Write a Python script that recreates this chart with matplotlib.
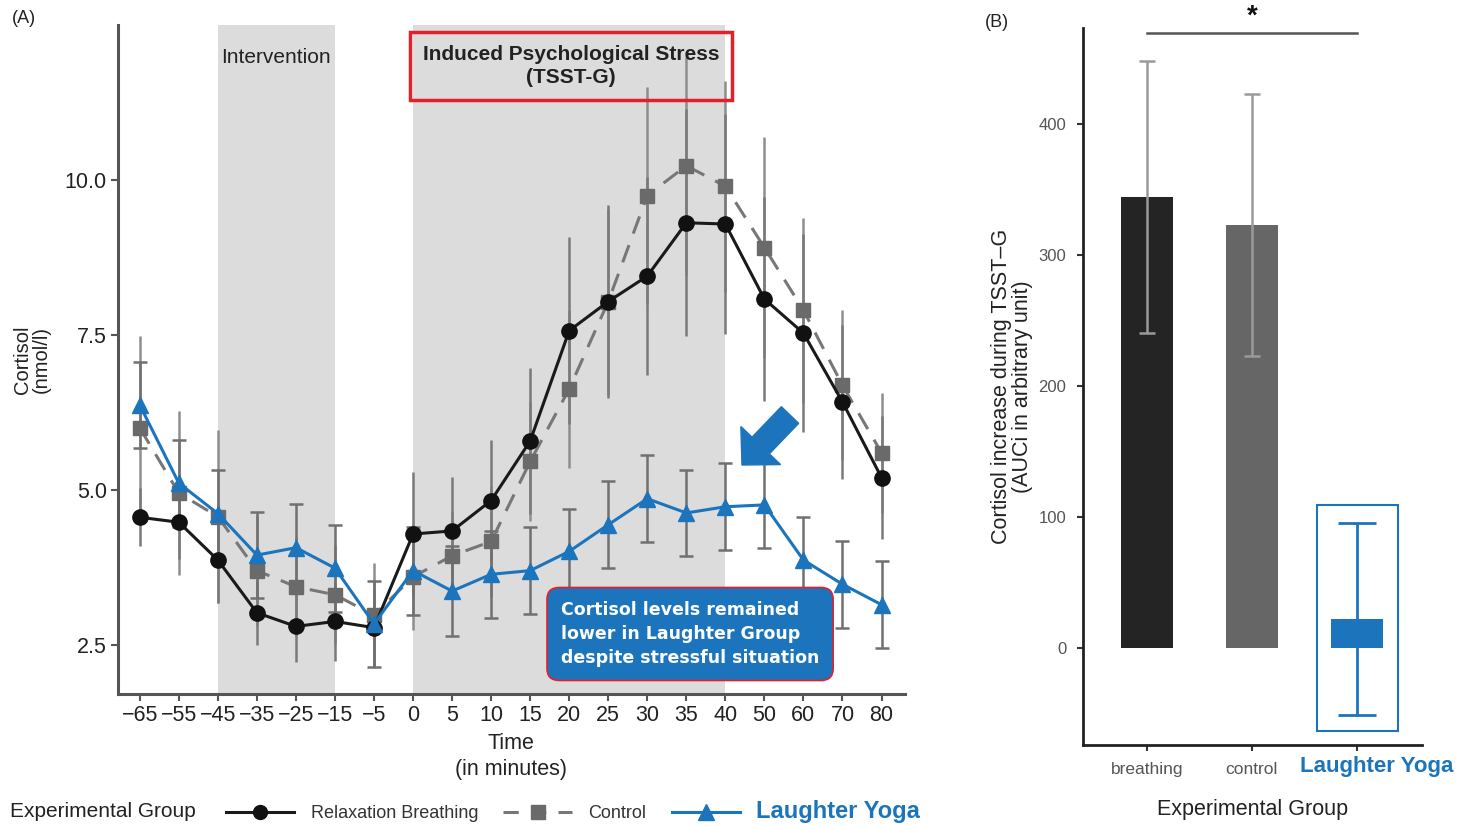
import matplotlib
matplotlib.use("Agg")
import matplotlib.pyplot as plt
import numpy as np
from matplotlib.patches import FancyArrow, Rectangle
from matplotlib.lines import Line2D

plt.rcParams['font.family'] = ['Liberation Sans', 'DejaVu Sans']

# Panel A data (cortisol, nmol/l)
times = [-65, -55, -45, -35, -25, -15, -5, 0, 5, 10, 15, 20, 25, 30, 35, 40, 50, 60, 70, 80]
breathing = [4.56, 4.48, 3.87, 3.02, 2.80, 2.88, 2.78, 4.29, 4.34, 4.83, 5.79, 7.57, 8.04, 8.45,
             9.31, 9.29, 8.08, 7.53, 6.42, 5.20]
breathing_se = [0.47, 0.60, 0.70, 0.52, 0.58, 0.63, 0.62, 1.00, 0.87, 0.98, 1.18, 1.51, 1.55, 1.60,
                1.83, 1.78, 1.65, 1.60, 1.24, 0.99]
control = [6.00, 4.95, 4.57, 3.70, 3.44, 3.31, 2.98, 3.60, 3.94, 4.17, 5.46, 6.63, 8.04, 9.75,
           10.23, 9.90, 8.91, 7.90, 6.69, 5.60]
control_se = [1.48, 1.32, 1.40, 0.90, 0.80, 0.80, 0.85, 0.85, 0.70, 0.90, 0.96, 1.28, 1.50, 1.75,
              1.76, 1.70, 1.78, 1.49, 1.21, 0.97]
yoga = [6.37, 5.11, 4.62, 3.95, 4.07, 3.74, 2.84, 3.70, 3.37, 3.64, 3.70, 4.01, 4.44, 4.86,
        4.63, 4.73, 4.76, 3.87, 3.48, 3.15]
yoga_se = [0.69, 0.70, 0.70, 0.69, 0.70, 0.70, 0.69, 0.71, 0.73, 0.70, 0.70, 0.69, 0.70, 0.70,
           0.70, 0.70, 0.70, 0.70, 0.70, 0.70]

# Panel B data (AUCi)
groups = ['breathing', 'control', 'Laughter Yoga']
auc = [344, 323, 22]
auc_err = [104, 100, 73]

blue = '#1c75bc'
fig = plt.figure(figsize=(14.65, 8.25), dpi=100)

# ---------------- panel A ----------------
ax = fig.add_axes([0.0805, 0.1588, 0.5372, 0.8109])
x = np.arange(len(times))

ax.axvspan(times.index(-45), times.index(-15), color='#dcdcdc', lw=0, zorder=0)
ax.axvspan(times.index(0), times.index(40), color='#dcdcdc', lw=0, zorder=0)

ax.errorbar(x, control, yerr=control_se, fmt='none', ecolor='#8e8e8e', elinewidth=1.8, capsize=0, zorder=2)
ax.errorbar(x, breathing, yerr=breathing_se, fmt='none', ecolor='#7a7a7a', elinewidth=1.8, capsize=0, zorder=2)
ax.errorbar(x, yoga, yerr=yoga_se, fmt='none', ecolor='#707070', elinewidth=1.8, capsize=5, capthick=1.8, zorder=2)

ax.plot(x, control, color='#777777', lw=2.2, dashes=(6, 4), marker='s', ms=10, mfc='#6a6a6a', mec='#6a6a6a', zorder=3)
ax.plot(x, breathing, color='#1a1a1a', lw=2.2, marker='o', ms=11, mfc='#111111', mec='#111111', zorder=4)
ax.plot(x, yoga, color=blue, lw=2.2, marker='^', ms=12, mfc=blue, mec=blue, zorder=5)

ax.set_xlim(-0.56, len(times) - 1 + 0.6)
ax.set_ylim(1.71, 12.5)
ax.set_yticks([2.5, 5.0, 7.5, 10.0])
ax.set_yticklabels(['2.5', '5.0', '7.5', '10.0'], fontsize=15.5, color='#222222')
ax.set_xticks(x)
ax.set_xticklabels([str(t).replace('-', '\u2212') for t in times], fontsize=15.5, color='#222222')
ax.tick_params(length=5, width=1.5, color='#555555', pad=3)
for s in ['top', 'right']:
    ax.spines[s].set_visible(False)
for s in ['left', 'bottom']:
    ax.spines[s].set_linewidth(2.2)
    ax.spines[s].set_color('#555555')
ax.set_xlabel('Time\n(in minutes)', fontsize=15.5, color='#222222', labelpad=5, linespacing=1.3)
ax.set_ylabel('Cortisol\n(nmol/l)', fontsize=14.5, color='#222222', labelpad=10, linespacing=1.0)

ax.text(3.5, 0.952, 'Intervention', transform=ax.get_xaxis_transform(), ha='center', va='center',
        fontsize=15, color='#222222')
ax.text(11.04, 0.939, 'Induced Psychological Stress\n(TSST-G)', transform=ax.get_xaxis_transform(),
        ha='center', va='center', fontsize=15, fontweight='bold', color='#222222', linespacing=1.3,
        bbox=dict(boxstyle='square,pad=0.6', fc='none', ec='#e3202a', lw=2.5))
ax.text(0.727, 0.0897, 'Cortisol levels remained\nlower in Laughter Group\ndespite stressful situation',
        transform=ax.transAxes, ha='center', va='center', multialignment='left', fontsize=12.5,
        fontweight='bold', color='white', family=['DejaVu Sans'], linespacing=1.4,
        bbox=dict(boxstyle='round,pad=0.8,rounding_size=0.7', fc=blue, ec='#e3202a', lw=1.2), zorder=6)

arrow = FancyArrow(7.90, 4.10, -0.48, -0.50, width=0.24, head_width=0.55, head_length=0.27,
                   length_includes_head=True, color=blue, transform=fig.dpi_scale_trans, zorder=7)
fig.patches.append(arrow)

fig.text(0.008, 0.978, '(A)', fontsize=13, color='#222222', va='center')

# legend row
fig.text(0.007, 0.016, 'Experimental Group', fontsize=15, color='#222222', va='center')
handles = [Line2D([], [], color='#1a1a1a', lw=2.2, marker='o', ms=10, mfc='#111111', mec='#111111'),
           Line2D([], [], color='#777777', lw=2.2, dashes=(5, 4), marker='s', ms=10, mfc='#6a6a6a', mec='#6a6a6a'),
           Line2D([], [], color=blue, lw=2.2, marker='^', ms=12, mfc=blue, mec=blue)]
leg = fig.legend(handles, ['Relaxation Breathing', 'Control', 'Laughter Yoga'], loc='center left',
                 bbox_to_anchor=(0.143, 0.016), ncol=3, frameon=False, handlelength=3.8,
                 columnspacing=1.4, handletextpad=0.9, fontsize=13)
for t, c in zip(leg.get_texts(), ['#333333', '#333333', blue]):
    t.set_color(c)
leg.get_texts()[2].set_fontweight('bold')
leg.get_texts()[2].set_fontsize(17)

# ---------------- panel B ----------------
bx = fig.add_axes([0.7392, 0.097, 0.2314, 0.869])
xb = np.arange(len(groups))
bx.bar(xb, auc, width=0.5, color=['#242424', '#666666', blue], zorder=2)
bx.errorbar(xb[:2], auc[:2], yerr=auc_err[:2], fmt='none', ecolor='#9a9a9a', elinewidth=1.8,
            capsize=6, capthick=1.8, zorder=3)
bx.errorbar(xb[2:], auc[2:], yerr=auc_err[2:], fmt='none', ecolor=blue, elinewidth=2,
            capsize=14, capthick=2, zorder=3)
bx.add_patch(Rectangle((xb[2] - 0.38, -63), 0.77, 172, fill=False, ec=blue, lw=1.5, zorder=4))

bx.plot([xb[0], xb[2]], [469, 469], color='#555555', lw=1.8, clip_on=False)
bx.text((xb[0] + xb[2]) / 2, 472, '*', ha='center', va='bottom', fontsize=20, fontweight='bold',
        color='#111111')

bx.set_xlim(-0.61, 2.62)
bx.set_ylim(-74, 473)
bx.set_yticks([0, 100, 200, 300, 400])
bx.set_yticklabels(['0', '100', '200', '300', '400'], fontsize=12, color='#555555')
bx.set_xticks(xb)
bx.set_xticklabels(groups[:2] + [''], fontsize=12.5, color='#555555')
# the highlighted group label sits a little right of its tick
bx.annotate(groups[2], xy=(xb[2], 0), xycoords=bx.get_xaxis_transform(), xytext=(14.5, -8),
            textcoords='offset points', ha='center', va='top', fontsize=16, fontweight='bold',
            color=blue, annotation_clip=False)
bx.tick_params(length=4, width=1.5, color='#333333', pad=8)
for s in ['top', 'right']:
    bx.spines[s].set_visible(False)
for s in ['left', 'bottom']:
    bx.spines[s].set_linewidth(2)
    bx.spines[s].set_color('#222222')
bx.set_xlabel('Experimental Group', fontsize=15.5, color='#222222', labelpad=16)
bx.set_ylabel('Cortisol increase during TSST\u2013G\n(AUCi in arbitrary unit)', fontsize=15.5,
              color='#222222', labelpad=4, linespacing=1.0)

fig.text(0.672, 0.973, '(B)', fontsize=13, color='#222222', va='center')

fig.savefig('out.png', dpi=100)
